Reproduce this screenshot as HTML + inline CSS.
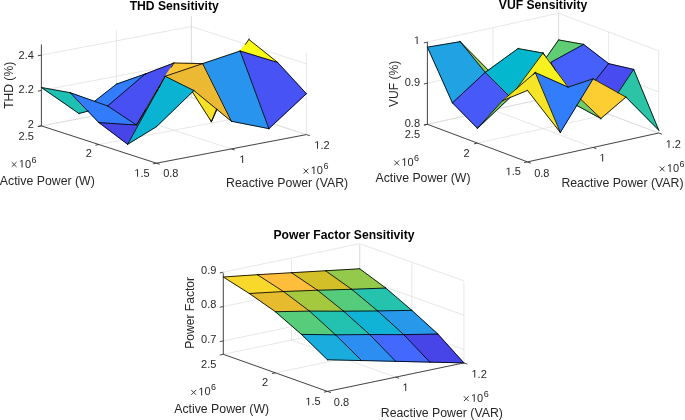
<!DOCTYPE html>
<html><head><meta charset="utf-8"><style>
html,body{margin:0;padding:0;background:#fff;width:685px;height:420px;overflow:hidden}
svg{display:block}
</style></head><body>
<svg width="685" height="420" viewBox="0 0 685 420">
<rect width="685" height="420" fill="#fff"/>
<line x1="41.40" y1="125.90" x2="41.40" y2="44.53" stroke="#d6d6d6" stroke-width="0.60"/>
<line x1="116.40" y1="111.60" x2="116.40" y2="30.23" stroke="#d6d6d6" stroke-width="0.60"/>
<line x1="191.40" y1="97.30" x2="191.40" y2="15.93" stroke="#d6d6d6" stroke-width="0.60"/>
<line x1="41.40" y1="125.90" x2="191.40" y2="97.30" stroke="#d6d6d6" stroke-width="0.60"/>
<line x1="41.40" y1="90.50" x2="191.40" y2="61.90" stroke="#d6d6d6" stroke-width="0.60"/>
<line x1="41.40" y1="55.10" x2="191.40" y2="26.50" stroke="#d6d6d6" stroke-width="0.60"/>
<line x1="306.40" y1="134.60" x2="306.40" y2="53.23" stroke="#d6d6d6" stroke-width="0.60"/>
<line x1="248.90" y1="115.95" x2="248.90" y2="34.58" stroke="#d6d6d6" stroke-width="0.60"/>
<line x1="191.40" y1="97.30" x2="191.40" y2="15.93" stroke="#d6d6d6" stroke-width="0.60"/>
<line x1="306.40" y1="134.60" x2="191.40" y2="97.30" stroke="#d6d6d6" stroke-width="0.60"/>
<line x1="306.40" y1="99.20" x2="191.40" y2="61.90" stroke="#d6d6d6" stroke-width="0.60"/>
<line x1="306.40" y1="63.80" x2="191.40" y2="26.50" stroke="#d6d6d6" stroke-width="0.60"/>
<line x1="156.40" y1="163.20" x2="41.40" y2="125.90" stroke="#d6d6d6" stroke-width="0.60"/>
<line x1="231.40" y1="148.90" x2="116.40" y2="111.60" stroke="#d6d6d6" stroke-width="0.60"/>
<line x1="306.40" y1="134.60" x2="191.40" y2="97.30" stroke="#d6d6d6" stroke-width="0.60"/>
<line x1="156.40" y1="163.20" x2="306.40" y2="134.60" stroke="#d6d6d6" stroke-width="0.60"/>
<line x1="98.90" y1="144.55" x2="248.90" y2="115.95" stroke="#d6d6d6" stroke-width="0.60"/>
<line x1="41.40" y1="125.90" x2="191.40" y2="97.30" stroke="#d6d6d6" stroke-width="0.60"/>
<g stroke="none">
<path d="M203.99 73.57 204.23 73.67 206.66 74.70 206.89 74.14 199.83 71.16 199.60 71.71ZM174.36 80.61 171.43 81.44 171.59 82.02 192.92 75.94 192.76 75.36 188.85 76.48ZM164.31 78.97 164.31 78.97 165.00 78.43 166.63 77.16 167.27 76.65 166.90 76.18 162.83 79.37 163.20 79.84Z" fill="#4bcb84" fill-rule="evenodd"/>
<path d="M145.33 74.26 146.54 73.45 146.50 73.36 145.06 73.73 114.93 84.36 122.04 84.85 122.08 84.26 117.87 83.97 143.72 74.84 131.78 85.01 132.17 85.47Z" fill="#36c899" fill-rule="evenodd"/>
<path d="M248.60 39.39 248.60 39.42 244.31 48.83 244.85 49.08 249.79 38.27 249.51 38.11ZM210.60 120.76 211.08 121.72 210.80 123.07 211.06 123.15 211.41 122.38 211.52 122.59 211.69 121.78 242.84 53.49 242.29 53.24 241.44 55.11 238.57 61.42 220.78 100.41 216.86 108.99 216.86 108.99 211.28 121.23Z" fill="#3e26a8" fill-rule="evenodd"/>
<path d="M107.30 106.14 107.25 106.37 107.79 106.22 146.46 73.30 146.44 73.25 116.25 83.90 93.89 101.40ZM87.99 110.81 78.76 113.24 77.57 114.17 88.46 111.31Z" fill="#317dfc" fill-rule="evenodd"/>
<path d="M40.10 86.95 78.84 113.84 108.67 105.99 70.23 92.38ZM106.63 105.91 87.99 110.81 71.24 93.38Z" fill="#1dc0b3" fill-rule="evenodd"/>
<path d="M192.04 91.94 211.95 123.10 212.33 122.88 211.66 121.54 192.48 91.51ZM191.90 91.72 192.40 91.39 190.66 88.66 181.19 73.84 180.69 74.17ZM172.90 63.05 143.66 74.27 143.79 74.69 145.24 74.31 173.88 63.32 174.12 63.44 174.14 63.33 182.61 64.51 182.69 63.92 174.20 62.73 174.20 62.73 173.94 62.69 172.47 62.49 172.39 62.92ZM153.23 71.60 153.38 72.18 171.41 67.47 171.41 66.84Z" fill="#f7ba3d" fill-rule="evenodd"/>
<path d="M136.66 125.16 165.40 76.44 174.04 63.32 174.05 63.32 174.61 62.40 144.99 73.76 107.15 105.98 136.49 125.43 136.66 125.16Z" fill="#4850f3" fill-rule="evenodd"/>
<path d="M69.06 91.97 98.76 122.89 137.50 125.38 107.78 105.68Z" fill="#327cfc" fill-rule="evenodd"/>
<path d="M242.21 51.95 243.13 52.23 278.97 63.16 278.99 63.12 248.85 39.06 239.89 50.86 239.75 51.20ZM210.56 122.95 211.05 123.17 217.34 109.38 216.40 108.61Z" fill="#f9fb15" fill-rule="evenodd"/>
<path d="M173.73 63.29 202.59 63.94 202.64 63.96 240.38 51.25 240.67 50.51 202.60 63.34 173.34 62.68ZM208.70 102.30 193.88 90.16 192.04 91.94 211.46 122.33 216.88 109.00Z" fill="#f5e128" fill-rule="evenodd"/>
<path d="M239.66 50.54 268.78 129.18 306.82 93.73 277.82 62.18Z" fill="#4853f5" fill-rule="evenodd"/>
<path d="M166.13 75.11 165.65 74.84 136.24 124.70 97.92 122.24 127.75 144.77Z" fill="#4744e8" fill-rule="evenodd"/>
<path d="M202.23 63.47 231.20 121.55 269.37 129.05 240.33 50.63Z" fill="#2994ed" fill-rule="evenodd"/>
<path d="M204.14 63.46 204.13 63.38 173.74 62.69 164.90 76.12 135.38 126.15 135.88 126.45 136.66 125.16 165.35 76.53Z" fill="#fec537" fill-rule="evenodd"/>
<path d="M164.37 76.23 193.74 90.81 232.29 122.41 202.80 63.27Z" fill="#ecba32" fill-rule="evenodd"/>
<path d="M194.41 90.48 165.03 75.88 126.84 145.16 156.58 126.98Z" fill="#0bb3d2" fill-rule="evenodd"/>
</g><g stroke="#000" stroke-width="0.85" stroke-linecap="round">
<line x1="156.40" y1="126.74" x2="193.90" y2="90.56"/>
<line x1="156.40" y1="126.74" x2="127.65" y2="144.32"/>
<line x1="127.65" y1="144.32" x2="165.15" y2="76.28"/>
<line x1="127.65" y1="144.32" x2="98.90" y2="122.60"/>
<line x1="98.90" y1="122.60" x2="136.40" y2="125.01"/>
<line x1="98.90" y1="122.60" x2="70.15" y2="92.67"/>
<line x1="70.15" y1="92.67" x2="107.65" y2="105.95"/>
<line x1="70.15" y1="92.67" x2="41.40" y2="87.49"/>
<line x1="41.40" y1="87.49" x2="78.90" y2="113.51"/>
<line x1="193.90" y1="90.56" x2="231.40" y2="121.29"/>
<line x1="193.90" y1="90.56" x2="165.15" y2="76.28"/>
<line x1="165.15" y1="76.28" x2="202.65" y2="63.64"/>
<line x1="165.15" y1="76.28" x2="136.40" y2="125.01"/>
<line x1="136.40" y1="125.01" x2="146.00" y2="109.13"/>
<line x1="155.21" y1="93.89" x2="160.41" y2="85.31"/>
<line x1="171.18" y1="67.50" x2="173.90" y2="62.99"/>
<line x1="136.40" y1="125.01" x2="107.65" y2="105.95"/>
<line x1="107.65" y1="105.95" x2="145.15" y2="74.02"/>
<line x1="88.16" y1="111.08" x2="78.90" y2="113.51"/>
<line x1="94.29" y1="101.46" x2="116.40" y2="84.17"/>
<line x1="231.40" y1="121.29" x2="268.90" y2="128.65"/>
<line x1="231.40" y1="121.29" x2="202.65" y2="63.64"/>
<line x1="202.65" y1="63.64" x2="240.15" y2="51.01"/>
<line x1="202.65" y1="63.64" x2="173.90" y2="62.99"/>
<line x1="192.38" y1="91.91" x2="211.40" y2="121.68"/>
<line x1="173.90" y1="62.99" x2="145.15" y2="74.02"/>
<line x1="145.15" y1="74.02" x2="146.84" y2="73.58"/>
<line x1="145.15" y1="74.02" x2="116.40" y2="84.17"/>
<line x1="268.90" y1="128.65" x2="306.40" y2="93.71"/>
<line x1="268.90" y1="128.65" x2="240.15" y2="51.01"/>
<line x1="240.15" y1="51.01" x2="277.65" y2="62.44"/>
<line x1="216.58" y1="108.94" x2="211.40" y2="121.68"/>
<line x1="211.40" y1="121.68" x2="217.01" y2="109.39"/>
<line x1="211.40" y1="121.68" x2="210.51" y2="119.90"/>
<line x1="306.40" y1="93.71" x2="277.65" y2="62.44"/>
<line x1="277.65" y1="62.44" x2="248.90" y2="39.49"/>
<line x1="248.90" y1="39.49" x2="245.42" y2="44.41"/>
</g>
<line x1="41.40" y1="125.90" x2="41.40" y2="44.53" stroke="#2a2a2a" stroke-width="0.85"/>
<line x1="41.40" y1="125.90" x2="37.86" y2="126.57" stroke="#2a2a2a" stroke-width="0.85"/>
<line x1="41.40" y1="90.50" x2="37.86" y2="91.17" stroke="#2a2a2a" stroke-width="0.85"/>
<line x1="41.40" y1="55.10" x2="37.86" y2="55.77" stroke="#2a2a2a" stroke-width="0.85"/>
<line x1="156.40" y1="163.20" x2="41.40" y2="125.90" stroke="#2a2a2a" stroke-width="0.85"/>
<line x1="156.40" y1="163.20" x2="152.86" y2="163.87" stroke="#2a2a2a" stroke-width="0.85"/>
<line x1="98.90" y1="144.55" x2="95.36" y2="145.22" stroke="#2a2a2a" stroke-width="0.85"/>
<line x1="41.40" y1="125.90" x2="37.86" y2="126.57" stroke="#2a2a2a" stroke-width="0.85"/>
<line x1="156.40" y1="163.20" x2="306.40" y2="134.60" stroke="#2a2a2a" stroke-width="0.85"/>
<line x1="156.40" y1="163.20" x2="159.82" y2="164.31" stroke="#2a2a2a" stroke-width="0.85"/>
<line x1="231.40" y1="148.90" x2="234.82" y2="150.01" stroke="#2a2a2a" stroke-width="0.85"/>
<line x1="306.40" y1="134.60" x2="309.82" y2="135.71" stroke="#2a2a2a" stroke-width="0.85"/>
<line x1="427.40" y1="124.30" x2="427.40" y2="42.08" stroke="#d6d6d6" stroke-width="0.60"/>
<line x1="493.00" y1="109.85" x2="493.00" y2="27.63" stroke="#d6d6d6" stroke-width="0.60"/>
<line x1="558.60" y1="95.40" x2="558.60" y2="13.18" stroke="#d6d6d6" stroke-width="0.60"/>
<line x1="427.40" y1="124.30" x2="558.60" y2="95.40" stroke="#d6d6d6" stroke-width="0.60"/>
<line x1="427.40" y1="83.20" x2="558.60" y2="54.30" stroke="#d6d6d6" stroke-width="0.60"/>
<line x1="427.40" y1="42.10" x2="558.60" y2="13.20" stroke="#d6d6d6" stroke-width="0.60"/>
<line x1="658.70" y1="133.00" x2="658.70" y2="50.78" stroke="#d6d6d6" stroke-width="0.60"/>
<line x1="608.65" y1="114.20" x2="608.65" y2="31.98" stroke="#d6d6d6" stroke-width="0.60"/>
<line x1="558.60" y1="95.40" x2="558.60" y2="13.18" stroke="#d6d6d6" stroke-width="0.60"/>
<line x1="658.70" y1="133.00" x2="558.60" y2="95.40" stroke="#d6d6d6" stroke-width="0.60"/>
<line x1="658.70" y1="91.90" x2="558.60" y2="54.30" stroke="#d6d6d6" stroke-width="0.60"/>
<line x1="658.70" y1="50.80" x2="558.60" y2="13.20" stroke="#d6d6d6" stroke-width="0.60"/>
<line x1="527.50" y1="161.90" x2="427.40" y2="124.30" stroke="#d6d6d6" stroke-width="0.60"/>
<line x1="593.10" y1="147.45" x2="493.00" y2="109.85" stroke="#d6d6d6" stroke-width="0.60"/>
<line x1="658.70" y1="133.00" x2="558.60" y2="95.40" stroke="#d6d6d6" stroke-width="0.60"/>
<line x1="527.50" y1="161.90" x2="658.70" y2="133.00" stroke="#d6d6d6" stroke-width="0.60"/>
<line x1="477.45" y1="143.10" x2="608.65" y2="114.20" stroke="#d6d6d6" stroke-width="0.60"/>
<line x1="427.40" y1="124.30" x2="558.60" y2="95.40" stroke="#d6d6d6" stroke-width="0.60"/>
<g stroke="none">
<path d="M550.56 62.45 550.66 62.72 584.52 44.24 558.46 39.59 546.12 57.15Z" fill="#5ecd74" fill-rule="evenodd"/>
<path d="M524.67 79.57 524.08 79.69 525.51 86.66 525.80 86.60 526.01 86.81 551.36 62.19 550.76 61.94 550.05 62.63 538.51 73.84 536.51 75.78 531.40 80.74 525.98 86.00 525.07 81.53 525.07 81.53ZM550.24 62.37 550.47 61.82 549.13 61.26 549.13 61.91ZM518.11 48.85 518.15 48.83 518.80 48.56 517.95 48.20 517.22 48.97Z" fill="#f8d92b" fill-rule="evenodd"/>
<path d="M583.65 44.03 550.41 62.18 554.38 68.96 567.96 87.44 578.69 83.89 593.07 79.14 595.62 80.56 609.07 63.59Z" fill="#4660fb" fill-rule="evenodd"/>
<path d="M605.37 85.99 618.17 93.11 634.17 69.15 608.53 63.31 595.08 80.26ZM600.90 118.17 576.69 105.10 576.37 105.61 600.97 118.89 601.61 117.94Z" fill="#484cf0" fill-rule="evenodd"/>
<path d="M519.26 47.69 519.05 47.45 488.33 69.76 459.37 40.39 459.03 40.69 485.05 72.65 485.13 72.67 493.09 75.26ZM488.76 70.19 515.56 50.72 493.00 74.48ZM485.88 72.28 488.27 70.55 491.92 74.25Z" fill="#96ca48" fill-rule="evenodd"/>
<path d="M540.61 58.34 540.16 59.46 540.72 59.68 541.16 58.57 541.33 58.64 541.56 58.09 541.38 58.02 543.11 53.68 545.48 57.43 547.45 60.55 545.04 59.55 544.81 60.10 548.01 61.44 562.40 84.24 561.93 84.03 561.69 84.58 562.97 85.15 565.36 88.94 565.87 88.62 563.48 84.83 563.48 84.72 563.38 84.68 547.84 60.05 554.38 68.96 564.14 85.61 567.20 90.82 575.59 105.14 576.11 104.83 551.07 62.12 543.28 52.84 542.36 51.68 542.00 51.93 542.43 52.61 516.62 48.00 516.55 48.26ZM540.83 57.78 539.76 57.34 520.65 49.33 542.64 53.26Z" fill="#f7f41c" fill-rule="evenodd"/>
<path d="M580.29 99.20 576.37 105.61 602.03 119.46 602.15 119.30 573.09 91.47 572.67 91.91ZM542.41 51.65 542.00 51.93 565.36 88.94 565.87 88.62 563.96 85.59 567.89 87.33 567.91 87.35 568.87 87.66ZM547.84 60.05 567.16 86.35 563.38 84.68Z" fill="#6ecd66" fill-rule="evenodd"/>
<path d="M599.81 119.55 599.95 119.68 625.88 97.48 659.52 131.38 659.54 131.37 633.74 68.71ZM625.38 97.12 602.33 116.85 618.17 93.11Z" fill="#2cc4a6" fill-rule="evenodd"/>
<path d="M426.97 46.88 452.32 103.38 485.64 72.42 460.32 41.33Z" fill="#21a3e3" fill-rule="evenodd"/>
<path d="M451.99 102.87 477.44 128.72 511.55 96.43 511.13 95.99 509.59 97.45 509.59 97.45 482.98 122.65 502.68 100.93 508.96 95.54 485.23 71.97Z" fill="#4759f8" fill-rule="evenodd"/>
<path d="M484.76 72.35 508.50 95.93 511.04 93.75 514.98 90.37 509.12 98.27 509.60 98.62 543.58 52.82 517.95 48.24Z" fill="#04b6ce" fill-rule="evenodd"/>
<path d="M567.51 86.96 574.84 93.98 575.26 93.55 568.64 87.21 592.42 79.35 580.29 99.20 600.86 118.90 626.42 97.02 593.13 78.49Z" fill="#fdce31" fill-rule="evenodd"/>
<path d="M568.99 87.82 543.05 52.52 515.69 89.40 515.89 89.58 528.90 78.40 508.97 98.08 509.39 98.51 535.34 72.89Z" fill="#f6f11f" fill-rule="evenodd"/>
<path d="M476.23 129.21 476.57 129.55 511.55 96.43 511.52 96.40 536.55 71.69 536.21 71.33 502.31 100.46 502.30 100.47 502.27 100.50 501.16 101.45 501.25 101.59 501.29 101.57ZM504.09 99.72 528.90 78.40 510.04 97.03 509.59 97.45Z" fill="#79cc5e" fill-rule="evenodd"/>
<path d="M534.71 71.95 560.25 133.14 593.78 78.27 568.09 86.76Z" fill="#317dfc" fill-rule="evenodd"/>
<path d="M501.16 101.45 501.23 101.55 527.40 90.75 560.97 133.83 561.14 133.72 535.39 72.03Z" fill="#f5e526" fill-rule="evenodd"/>
</g><g stroke="#000" stroke-width="0.85" stroke-linecap="round">
<line x1="527.50" y1="90.39" x2="560.30" y2="132.48"/>
<line x1="527.50" y1="90.39" x2="502.48" y2="100.71"/>
<line x1="502.48" y1="100.71" x2="535.27" y2="72.53"/>
<line x1="502.48" y1="100.71" x2="477.45" y2="128.30"/>
<line x1="477.45" y1="128.30" x2="510.25" y2="97.24"/>
<line x1="477.45" y1="128.30" x2="452.43" y2="102.88"/>
<line x1="452.43" y1="102.88" x2="485.22" y2="72.39"/>
<line x1="452.43" y1="102.88" x2="427.40" y2="47.11"/>
<line x1="427.40" y1="47.11" x2="460.20" y2="41.66"/>
<line x1="560.30" y1="132.48" x2="593.10" y2="78.81"/>
<line x1="560.30" y1="132.48" x2="535.27" y2="72.53"/>
<line x1="535.27" y1="72.53" x2="568.08" y2="87.09"/>
<line x1="535.27" y1="72.53" x2="533.13" y2="74.65"/>
<line x1="516.21" y1="89.20" x2="543.05" y2="53.03"/>
<line x1="508.65" y1="95.65" x2="485.22" y2="72.39"/>
<line x1="485.22" y1="72.39" x2="518.03" y2="48.56"/>
<line x1="485.22" y1="72.39" x2="460.20" y2="41.66"/>
<line x1="460.20" y1="41.66" x2="488.42" y2="70.27"/>
<line x1="593.10" y1="78.81" x2="625.90" y2="97.07"/>
<line x1="593.10" y1="78.81" x2="568.08" y2="87.09"/>
<line x1="580.58" y1="99.06" x2="600.88" y2="118.50"/>
<line x1="568.08" y1="87.09" x2="543.05" y2="53.03"/>
<line x1="543.05" y1="53.03" x2="544.52" y2="55.36"/>
<line x1="543.05" y1="53.03" x2="518.03" y2="48.56"/>
<line x1="625.90" y1="97.07" x2="658.70" y2="130.12"/>
<line x1="625.90" y1="97.07" x2="600.88" y2="118.50"/>
<line x1="617.97" y1="92.88" x2="633.68" y2="69.35"/>
<line x1="600.88" y1="118.50" x2="576.51" y2="105.34"/>
<line x1="595.44" y1="80.30" x2="608.65" y2="63.65"/>
<line x1="555.65" y1="70.53" x2="550.83" y2="62.29"/>
<line x1="550.83" y1="62.29" x2="583.62" y2="44.38"/>
<line x1="546.37" y1="57.32" x2="558.60" y2="39.91"/>
<line x1="658.70" y1="130.12" x2="633.68" y2="69.35"/>
<line x1="633.68" y1="69.35" x2="608.65" y2="63.65"/>
<line x1="608.65" y1="63.65" x2="583.62" y2="44.38"/>
<line x1="583.62" y1="44.38" x2="558.60" y2="39.91"/>
</g>
<line x1="427.40" y1="124.30" x2="427.40" y2="42.08" stroke="#2a2a2a" stroke-width="0.85"/>
<line x1="427.40" y1="124.30" x2="423.88" y2="125.07" stroke="#2a2a2a" stroke-width="0.85"/>
<line x1="427.40" y1="83.20" x2="423.88" y2="83.97" stroke="#2a2a2a" stroke-width="0.85"/>
<line x1="427.40" y1="42.10" x2="423.88" y2="42.87" stroke="#2a2a2a" stroke-width="0.85"/>
<line x1="527.50" y1="161.90" x2="427.40" y2="124.30" stroke="#2a2a2a" stroke-width="0.85"/>
<line x1="527.50" y1="161.90" x2="523.98" y2="162.67" stroke="#2a2a2a" stroke-width="0.85"/>
<line x1="477.45" y1="143.10" x2="473.93" y2="143.87" stroke="#2a2a2a" stroke-width="0.85"/>
<line x1="427.40" y1="124.30" x2="423.88" y2="125.07" stroke="#2a2a2a" stroke-width="0.85"/>
<line x1="527.50" y1="161.90" x2="658.70" y2="133.00" stroke="#2a2a2a" stroke-width="0.85"/>
<line x1="527.50" y1="161.90" x2="530.87" y2="163.17" stroke="#2a2a2a" stroke-width="0.85"/>
<line x1="593.10" y1="147.45" x2="596.47" y2="148.72" stroke="#2a2a2a" stroke-width="0.85"/>
<line x1="658.70" y1="133.00" x2="662.07" y2="134.27" stroke="#2a2a2a" stroke-width="0.85"/>
<line x1="223.30" y1="354.30" x2="223.30" y2="273.22" stroke="#d6d6d6" stroke-width="0.60"/>
<line x1="291.50" y1="340.05" x2="291.50" y2="258.97" stroke="#d6d6d6" stroke-width="0.60"/>
<line x1="359.70" y1="325.80" x2="359.70" y2="244.72" stroke="#d6d6d6" stroke-width="0.60"/>
<line x1="223.30" y1="340.90" x2="359.70" y2="312.40" stroke="#d6d6d6" stroke-width="0.60"/>
<line x1="223.30" y1="306.55" x2="359.70" y2="278.05" stroke="#d6d6d6" stroke-width="0.60"/>
<line x1="223.30" y1="272.20" x2="359.70" y2="243.70" stroke="#d6d6d6" stroke-width="0.60"/>
<line x1="463.90" y1="362.90" x2="463.90" y2="281.82" stroke="#d6d6d6" stroke-width="0.60"/>
<line x1="411.80" y1="344.35" x2="411.80" y2="263.27" stroke="#d6d6d6" stroke-width="0.60"/>
<line x1="359.70" y1="325.80" x2="359.70" y2="244.72" stroke="#d6d6d6" stroke-width="0.60"/>
<line x1="463.90" y1="349.50" x2="359.70" y2="312.40" stroke="#d6d6d6" stroke-width="0.60"/>
<line x1="463.90" y1="315.15" x2="359.70" y2="278.05" stroke="#d6d6d6" stroke-width="0.60"/>
<line x1="463.90" y1="280.80" x2="359.70" y2="243.70" stroke="#d6d6d6" stroke-width="0.60"/>
<line x1="327.50" y1="391.40" x2="223.30" y2="354.30" stroke="#d6d6d6" stroke-width="0.60"/>
<line x1="395.70" y1="377.15" x2="291.50" y2="340.05" stroke="#d6d6d6" stroke-width="0.60"/>
<line x1="463.90" y1="362.90" x2="359.70" y2="325.80" stroke="#d6d6d6" stroke-width="0.60"/>
<line x1="327.50" y1="391.40" x2="463.90" y2="362.90" stroke="#d6d6d6" stroke-width="0.60"/>
<line x1="275.40" y1="372.85" x2="411.80" y2="344.35" stroke="#d6d6d6" stroke-width="0.60"/>
<line x1="223.30" y1="354.30" x2="359.70" y2="325.80" stroke="#d6d6d6" stroke-width="0.60"/>
<g stroke="none">
<path d="M324.73 270.50 351.56 289.60 386.62 288.28 359.79 268.47Z" fill="#93ca4b" fill-rule="evenodd"/>
<path d="M350.86 289.03 377.59 311.24 412.59 310.63 385.86 287.71Z" fill="#25c2ae" fill-rule="evenodd"/>
<path d="M290.59 272.48 317.46 290.55 352.55 289.58 325.69 270.45Z" fill="#d3bf27" fill-rule="evenodd"/>
<path d="M376.94 310.66 403.64 334.95 438.61 334.33 411.91 310.04Z" fill="#2798ea" fill-rule="evenodd"/>
<path d="M403.06 334.36 429.67 362.42 464.59 363.22 437.98 333.74Z" fill="#4744e8" fill-rule="evenodd"/>
<path d="M316.73 289.97 343.50 311.50 378.52 311.24 351.75 289.00Z" fill="#54cc7c" fill-rule="evenodd"/>
<path d="M256.47 274.45 283.37 291.83 318.48 290.51 291.58 272.42Z" fill="#febe3c" fill-rule="evenodd"/>
<path d="M342.82 310.90 369.53 334.86 404.53 334.95 377.82 310.64Z" fill="#10b2d5" fill-rule="evenodd"/>
<path d="M368.94 334.25 395.57 361.65 430.51 362.44 403.88 334.34Z" fill="#4368fe" fill-rule="evenodd"/>
<path d="M282.59 291.26 309.40 311.41 344.45 311.50 317.65 289.94Z" fill="#a4c83e" fill-rule="evenodd"/>
<path d="M222.36 276.78 249.27 293.81 284.38 291.77 257.48 274.39Z" fill="#f9d82c" fill-rule="evenodd"/>
<path d="M308.72 310.81 335.43 335.11 370.43 334.85 343.72 310.90Z" fill="#23c1af" fill-rule="evenodd"/>
<path d="M334.83 334.52 361.47 360.87 396.43 361.67 369.78 334.25Z" fill="#2d8ef2" fill-rule="evenodd"/>
<path d="M248.47 293.25 275.31 312.01 310.38 311.39 283.54 291.22Z" fill="#e6bb2d" fill-rule="evenodd"/>
<path d="M274.61 311.42 301.34 334.68 336.34 335.12 309.61 310.81Z" fill="#57cc7a" fill-rule="evenodd"/>
<path d="M300.70 334.07 327.38 360.10 362.35 360.89 335.67 334.51Z" fill="#1aacdd" fill-rule="evenodd"/>
</g><g stroke="#000" stroke-width="0.85" stroke-linecap="round">
<line x1="327.50" y1="359.80" x2="361.60" y2="360.57"/>
<line x1="327.50" y1="359.80" x2="301.45" y2="334.38"/>
<line x1="301.45" y1="334.38" x2="335.55" y2="334.81"/>
<line x1="301.45" y1="334.38" x2="275.40" y2="311.71"/>
<line x1="275.40" y1="311.71" x2="309.50" y2="311.11"/>
<line x1="275.40" y1="311.71" x2="249.35" y2="293.50"/>
<line x1="249.35" y1="293.50" x2="283.45" y2="291.53"/>
<line x1="249.35" y1="293.50" x2="223.30" y2="277.01"/>
<line x1="223.30" y1="277.01" x2="257.40" y2="274.70"/>
<line x1="361.60" y1="360.57" x2="395.70" y2="361.35"/>
<line x1="361.60" y1="360.57" x2="335.55" y2="334.81"/>
<line x1="335.55" y1="334.81" x2="369.65" y2="334.56"/>
<line x1="335.55" y1="334.81" x2="309.50" y2="311.11"/>
<line x1="309.50" y1="311.11" x2="343.60" y2="311.20"/>
<line x1="309.50" y1="311.11" x2="283.45" y2="291.53"/>
<line x1="283.45" y1="291.53" x2="317.55" y2="290.24"/>
<line x1="283.45" y1="291.53" x2="257.40" y2="274.70"/>
<line x1="257.40" y1="274.70" x2="291.50" y2="272.72"/>
<line x1="395.70" y1="361.35" x2="429.80" y2="362.12"/>
<line x1="395.70" y1="361.35" x2="369.65" y2="334.56"/>
<line x1="369.65" y1="334.56" x2="403.75" y2="334.64"/>
<line x1="369.65" y1="334.56" x2="343.60" y2="311.20"/>
<line x1="343.60" y1="311.20" x2="377.70" y2="310.94"/>
<line x1="343.60" y1="311.20" x2="317.55" y2="290.24"/>
<line x1="317.55" y1="290.24" x2="351.65" y2="289.30"/>
<line x1="317.55" y1="290.24" x2="291.50" y2="272.72"/>
<line x1="291.50" y1="272.72" x2="325.60" y2="270.75"/>
<line x1="429.80" y1="362.12" x2="463.90" y2="362.90"/>
<line x1="429.80" y1="362.12" x2="403.75" y2="334.64"/>
<line x1="403.75" y1="334.64" x2="437.85" y2="334.05"/>
<line x1="403.75" y1="334.64" x2="377.70" y2="310.94"/>
<line x1="377.70" y1="310.94" x2="411.80" y2="310.34"/>
<line x1="377.70" y1="310.94" x2="351.65" y2="289.30"/>
<line x1="351.65" y1="289.30" x2="385.75" y2="288.02"/>
<line x1="351.65" y1="289.30" x2="325.60" y2="270.75"/>
<line x1="325.60" y1="270.75" x2="359.70" y2="268.78"/>
<line x1="463.90" y1="362.90" x2="437.85" y2="334.05"/>
<line x1="437.85" y1="334.05" x2="411.80" y2="310.34"/>
<line x1="411.80" y1="310.34" x2="385.75" y2="288.02"/>
<line x1="385.75" y1="288.02" x2="359.70" y2="268.78"/>
</g>
<line x1="223.30" y1="354.30" x2="223.30" y2="273.22" stroke="#2a2a2a" stroke-width="0.85"/>
<line x1="223.30" y1="340.90" x2="219.78" y2="341.64" stroke="#2a2a2a" stroke-width="0.85"/>
<line x1="223.30" y1="306.55" x2="219.78" y2="307.29" stroke="#2a2a2a" stroke-width="0.85"/>
<line x1="223.30" y1="272.20" x2="219.78" y2="272.94" stroke="#2a2a2a" stroke-width="0.85"/>
<line x1="327.50" y1="391.40" x2="223.30" y2="354.30" stroke="#2a2a2a" stroke-width="0.85"/>
<line x1="327.50" y1="391.40" x2="323.98" y2="392.14" stroke="#2a2a2a" stroke-width="0.85"/>
<line x1="275.40" y1="372.85" x2="271.88" y2="373.59" stroke="#2a2a2a" stroke-width="0.85"/>
<line x1="223.30" y1="354.30" x2="219.78" y2="355.04" stroke="#2a2a2a" stroke-width="0.85"/>
<line x1="327.50" y1="391.40" x2="463.90" y2="362.90" stroke="#2a2a2a" stroke-width="0.85"/>
<line x1="327.50" y1="391.40" x2="330.89" y2="392.61" stroke="#2a2a2a" stroke-width="0.85"/>
<line x1="395.70" y1="377.15" x2="399.09" y2="378.36" stroke="#2a2a2a" stroke-width="0.85"/>
<line x1="463.90" y1="362.90" x2="467.29" y2="364.11" stroke="#2a2a2a" stroke-width="0.85"/>
<g font-family="Liberation Sans, sans-serif" style="opacity:0.995">
<text x="129.70" y="10.40" font-size="12.15" text-anchor="start" fill="#000" font-weight="bold">THD Sensitivity</text>
<text x="12.70" y="85.35" font-size="12.10" text-anchor="middle" fill="#262626" transform="rotate(-90 12.70 85.35)">THD (%)</text>
<text x="33.90" y="58.60" font-size="11.00" text-anchor="end" fill="#262626">2.4</text>
<text x="33.90" y="93.00" font-size="11.00" text-anchor="end" fill="#262626">2.2</text>
<text x="33.90" y="127.60" font-size="11.00" text-anchor="end" fill="#262626">2</text>
<text x="33.90" y="139.50" font-size="11.00" text-anchor="end" fill="#262626">2.5</text>
<text x="91.90" y="157.40" font-size="11.00" text-anchor="end" fill="#262626">2</text>
<path transform="translate(134.31 176.70) scale(0.00537 -0.00537)" d="M515 0L515 1237L197 1010L197 1180L530 1409L696 1409L696 0Z" fill="#262626"/><text x="140.43" y="176.70" font-size="11.00" fill="#262626">.5</text>
<path d="M11.70 162.10L16.50 166.90M11.70 166.90L16.50 162.10" stroke="#262626" stroke-width="0.9" fill="none"/><path transform="translate(18.80 167.50) scale(0.00537 -0.00537)" d="M515 0L515 1237L197 1010L197 1180L530 1409L696 1409L696 0Z" fill="#262626"/><text x="24.92" y="167.50" font-size="11.00" fill="#262626">0</text><text x="31.50" y="162.50" font-size="9" fill="#262626">6</text>
<text x="-0.20" y="184.60" font-size="12.30" text-anchor="start" fill="#262626">Active Power (W)</text>
<text x="163.20" y="177.00" font-size="11.00" text-anchor="start" fill="#262626">0.8</text>
<path transform="translate(239.40 163.10) scale(0.00537 -0.00537)" d="M515 0L515 1237L197 1010L197 1180L530 1409L696 1409L696 0Z" fill="#262626"/>
<path transform="translate(314.30 148.70) scale(0.00537 -0.00537)" d="M515 0L515 1237L197 1010L197 1180L530 1409L696 1409L696 0Z" fill="#262626"/><text x="320.42" y="148.70" font-size="11.00" fill="#262626">.2</text>
<path d="M303.60 168.70L308.40 173.50M303.60 173.50L308.40 168.70" stroke="#262626" stroke-width="0.9" fill="none"/><path transform="translate(310.70 174.10) scale(0.00537 -0.00537)" d="M515 0L515 1237L197 1010L197 1180L530 1409L696 1409L696 0Z" fill="#262626"/><text x="316.82" y="174.10" font-size="11.00" fill="#262626">0</text><text x="323.40" y="169.10" font-size="9" fill="#262626">6</text>
<text x="226.10" y="186.70" font-size="12.30" text-anchor="start" fill="#262626">Reactive Power (VAR)</text>
<text x="498.80" y="8.80" font-size="12.15" text-anchor="start" fill="#000" font-weight="bold">VUF Sensitivity</text>
<text x="397.90" y="83.90" font-size="12.10" text-anchor="middle" fill="#262626" transform="rotate(-90 397.90 83.90)">VUF (%)</text>
<path transform="translate(413.88 44.00) scale(0.00537 -0.00537)" d="M515 0L515 1237L197 1010L197 1180L530 1409L696 1409L696 0Z" fill="#262626"/>
<text x="420.00" y="86.00" font-size="11.00" text-anchor="end" fill="#262626">0.9</text>
<text x="420.00" y="126.90" font-size="11.00" text-anchor="end" fill="#262626">0.8</text>
<text x="420.00" y="137.90" font-size="11.00" text-anchor="end" fill="#262626">2.5</text>
<text x="469.60" y="156.80" font-size="11.00" text-anchor="end" fill="#262626">2</text>
<path transform="translate(505.61 175.20) scale(0.00537 -0.00537)" d="M515 0L515 1237L197 1010L197 1180L530 1409L696 1409L696 0Z" fill="#262626"/><text x="511.73" y="175.20" font-size="11.00" fill="#262626">.5</text>
<path d="M394.30 160.50L399.10 165.30M394.30 165.30L399.10 160.50" stroke="#262626" stroke-width="0.9" fill="none"/><path transform="translate(401.40 165.90) scale(0.00537 -0.00537)" d="M515 0L515 1237L197 1010L197 1180L530 1409L696 1409L696 0Z" fill="#262626"/><text x="407.52" y="165.90" font-size="11.00" fill="#262626">0</text><text x="414.10" y="160.90" font-size="9" fill="#262626">6</text>
<text x="375.50" y="182.40" font-size="12.30" text-anchor="start" fill="#262626">Active Power (W)</text>
<text x="534.20" y="176.70" font-size="11.00" text-anchor="start" fill="#262626">0.8</text>
<path transform="translate(599.40 161.50) scale(0.00537 -0.00537)" d="M515 0L515 1237L197 1010L197 1180L530 1409L696 1409L696 0Z" fill="#262626"/>
<path transform="translate(665.70 147.80) scale(0.00537 -0.00537)" d="M515 0L515 1237L197 1010L197 1180L530 1409L696 1409L696 0Z" fill="#262626"/><text x="671.82" y="147.80" font-size="11.00" fill="#262626">.2</text>
<path d="M659.80 166.50L664.60 171.30M659.80 171.30L664.60 166.50" stroke="#262626" stroke-width="0.9" fill="none"/><path transform="translate(666.90 171.90) scale(0.00537 -0.00537)" d="M515 0L515 1237L197 1010L197 1180L530 1409L696 1409L696 0Z" fill="#262626"/><text x="673.02" y="171.90" font-size="11.00" fill="#262626">0</text><text x="679.60" y="166.90" font-size="9" fill="#262626">6</text>
<text x="561.40" y="186.70" font-size="12.30" text-anchor="start" fill="#262626">Reactive Power (VAR)</text>
<text x="273.50" y="238.90" font-size="12.15" text-anchor="start" fill="#000" font-weight="bold">Power Factor Sensitivity</text>
<text x="193.80" y="312.85" font-size="12.10" text-anchor="middle" fill="#262626" transform="rotate(-90 193.80 312.85)">Power Factor</text>
<text x="216.40" y="274.00" font-size="11.00" text-anchor="end" fill="#262626">0.9</text>
<text x="216.40" y="308.40" font-size="11.00" text-anchor="end" fill="#262626">0.8</text>
<text x="216.40" y="342.70" font-size="11.00" text-anchor="end" fill="#262626">0.7</text>
<text x="216.40" y="367.60" font-size="11.00" text-anchor="end" fill="#262626">2.5</text>
<text x="268.10" y="386.00" font-size="11.00" text-anchor="end" fill="#262626">2</text>
<path transform="translate(305.41 405.20) scale(0.00537 -0.00537)" d="M515 0L515 1237L197 1010L197 1180L530 1409L696 1409L696 0Z" fill="#262626"/><text x="311.53" y="405.20" font-size="11.00" fill="#262626">.5</text>
<path d="M191.30 390.00L196.10 394.80M191.30 394.80L196.10 390.00" stroke="#262626" stroke-width="0.9" fill="none"/><path transform="translate(198.40 395.40) scale(0.00537 -0.00537)" d="M515 0L515 1237L197 1010L197 1180L530 1409L696 1409L696 0Z" fill="#262626"/><text x="204.52" y="395.40" font-size="11.00" fill="#262626">0</text><text x="211.10" y="390.40" font-size="9" fill="#262626">6</text>
<text x="174.20" y="412.90" font-size="12.30" text-anchor="start" fill="#262626">Active Power (W)</text>
<text x="333.80" y="406.30" font-size="11.00" text-anchor="start" fill="#262626">0.8</text>
<path transform="translate(402.50 391.10) scale(0.00537 -0.00537)" d="M515 0L515 1237L197 1010L197 1180L530 1409L696 1409L696 0Z" fill="#262626"/>
<path transform="translate(471.50 377.60) scale(0.00537 -0.00537)" d="M515 0L515 1237L197 1010L197 1180L530 1409L696 1409L696 0Z" fill="#262626"/><text x="477.62" y="377.60" font-size="11.00" fill="#262626">.2</text>
<path d="M463.90 396.30L468.70 401.10M463.90 401.10L468.70 396.30" stroke="#262626" stroke-width="0.9" fill="none"/><path transform="translate(471.00 401.70) scale(0.00537 -0.00537)" d="M515 0L515 1237L197 1010L197 1180L530 1409L696 1409L696 0Z" fill="#262626"/><text x="477.12" y="401.70" font-size="11.00" fill="#262626">0</text><text x="483.70" y="396.70" font-size="9" fill="#262626">6</text>
<text x="380.80" y="416.90" font-size="12.30" text-anchor="start" fill="#262626">Reactive Power (VAR)</text>
</g>
</svg>
</body></html>
